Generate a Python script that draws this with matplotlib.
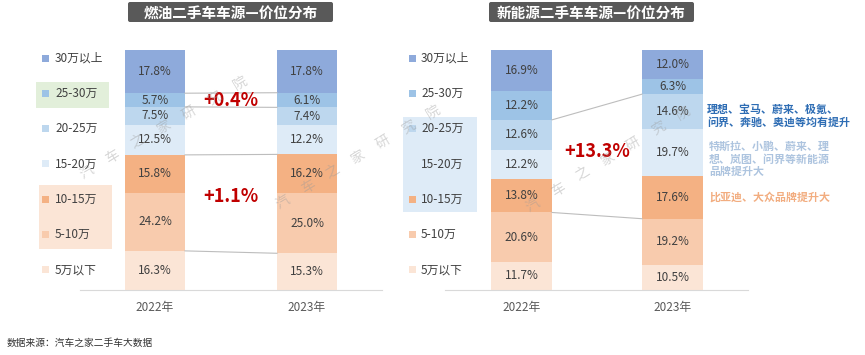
import numpy as np
import matplotlib.pyplot as plt
from matplotlib.patches import Rectangle, FancyBboxPatch

plt.rcParams['font.family'] = ['Noto Sans CJK SC', 'DejaVu Sans']

# 数据 (从上到下: 30万以上 ... 5万以下)
price_bands = ['30万以上', '25-30万', '20-25万', '15-20万', '10-15万', '5-10万', '5万以下']
years = ['2022年', '2023年']
fuel_2022 = [17.8, 5.7, 7.5, 12.5, 15.8, 24.2, 16.3]
fuel_2023 = [17.8, 6.1, 7.4, 12.2, 16.2, 25.0, 15.3]
nev_2022 = [16.9, 12.2, 12.6, 12.2, 13.8, 20.6, 11.7]
nev_2023 = [12.0, 6.3, 14.6, 19.7, 17.6, 19.2, 10.5]
fuel_changes = ['+0.4%', '+1.1%']
nev_change = '+13.3%'
titles = ['燃油二手车车源—价位分布', '新能源二手车车源—价位分布']
notes = ['理想、宝马、蔚来、极氪、\n问界、奔驰、奥迪等均有提升',
         '特斯拉、小鹏、蔚来、理\n想、岚图、问界等新能源\n品牌提升大',
         '比亚迪、大众品牌提升大']
source = '数据来源：汽车之家二手车大数据'

colors = ['#8eaadb', '#9dc3e6', '#bdd7ee', '#deebf7', '#f4b183', '#f8cbad', '#fbe5d6']

W, H = 865, 355
fig = plt.figure(figsize=(W / 100, H / 100), dpi=100)


def px_axes(x0, y0, x1, y1, **kw):
    return fig.add_axes([x0 / W, 1 - y1 / H, (x1 - x0) / W, (y1 - y0) / H], **kw)


def stacked(ax, series, width):
    cums = []
    for i, vals in enumerate(series):
        bottom = 0
        for v, c in zip(vals[::-1], colors[::-1]):
            ax.bar(i, v, width, bottom=bottom, color=c, edgecolor='none')
            ax.text(i, bottom + v / 2, f'{v:.1f}%', ha='center', va='center',
                    fontsize=8.5, color='#404040')
            bottom += v
        cums.append(np.cumsum(vals[::-1]))
    ax.set_xticks([0, 1], years)
    ax.tick_params(axis='x', length=0, pad=8, labelsize=8.5, labelcolor='#595959')
    ax.set_yticks([])
    ax.set_ylim(0, 100)
    for s in ['left', 'right', 'top']:
        ax.spines[s].set_visible(False)
    ax.spines['bottom'].set_color('#d9d9d9')
    return cums


def connect(ax, cums, k, width):
    ax.plot([width / 2, 1 - width / 2], [cums[0][k], cums[1][k]],
            color='#bdbdbd', lw=0.8)


# 燃油
w1 = 60 / 152
ax1 = px_axes(80, 50, 382, 290)
c1 = stacked(ax1, [fuel_2022, fuel_2023], w1)
ax1.set_xlim(-0.493, 1.493)
for k in [5, 4, 2, 0]:
    connect(ax1, c1, k, w1)
y_a = (c1[0][4] + c1[0][5] + c1[1][4] + c1[1][5]) / 4
y_b = (c1[0][2] + c1[0][0] + c1[1][2] + c1[1][0]) / 4 + 3
ax1.text(0.5, y_a, fuel_changes[0], ha='center', va='center', fontsize=13,
         fontweight='bold', color='#c00000')
ax1.text(0.5, y_b, fuel_changes[1], ha='center', va='center', fontsize=13,
         fontweight='bold', color='#c00000')

# 新能源
w2 = 61 / 151
ax2 = px_axes(445, 50, 748, 290)
c2 = stacked(ax2, [nev_2022, nev_2023], w2)
ax2.set_xlim(-0.507, 1.5)
for k in [4, 1]:
    connect(ax2, c2, k, w2)
y_c = (c2[0][4] + c2[0][1] + c2[1][4] + c2[1][1]) / 4 + 4
ax2.text(0.5, y_c, nev_change, ha='center', va='center', fontsize=13,
         fontweight='bold', color='#c00000')

# 装饰层 (像素坐标)
ov = fig.add_axes([0, 0, 1, 1], zorder=10)
ov.set_xlim(0, W)
ov.set_ylim(H, 0)
ov.axis('off')
ov.patch.set_alpha(0)

for x0, t in zip([128, 489], titles):
    ov.add_patch(FancyBboxPatch((x0, 2), 205, 20, boxstyle='round,pad=0,rounding_size=2',
                                fc='#595959', ec='none'))
    ov.text(x0 + 102.5, 12.5, t, ha='center', va='center', fontsize=10.5,
            fontweight='bold', color='white')

# 图例高亮框
ov.add_patch(Rectangle((36, 82), 73, 26, fc='#e2efda', ec='none'))
ov.add_patch(Rectangle((39, 185), 73, 64, fc='#fbe5d6', ec='none'))
ov.add_patch(Rectangle((403, 117), 74, 95, fc='#deebf7', ec='none'))

rows = 58 + 35.3 * np.arange(len(price_bands))
for sx, tx in [(42, 55), (409, 421)]:
    for y, lab, c in zip(rows, price_bands, colors):
        ov.add_patch(Rectangle((sx, y - 3.5), 7, 7, fc=c, ec='none'))
        ov.text(tx, y, lab, ha='left', va='center', fontsize=8.5, color='#404040')

# 右侧说明
ov.text(707, 116, notes[0], ha='left', va='center', fontsize=7.9, fontweight='bold',
        color='#2e6db4', linespacing=1.25)
ov.text(709, 159, notes[1], ha='left', va='center', fontsize=7.9, fontweight='bold',
        color='#adc4df', linespacing=1.25)
ov.text(709, 197, notes[2], ha='left', va='center', fontsize=7.9, fontweight='bold',
        color='#f2ad80')

ov.text(7, 343, source, ha='left', va='center', fontsize=7, color='#333333')

# 水印
wm = '汽车之家研究院'
for (xs, ys), (xe, ye) in [((87, 172), (240, 83)), ((283, 202), (433, 112)),
                           ((533, 205), (683, 113))]:
    for i, ch in enumerate(wm):
        f = i / (len(wm) - 1)
        ov.text(xs + f * (xe - xs), ys + f * (ye - ys), ch, ha='center', va='center',
                fontsize=10, fontweight='light', color='#9a9a9a', alpha=0.4, rotation=31)

fig.savefig('out.png', dpi=100)
